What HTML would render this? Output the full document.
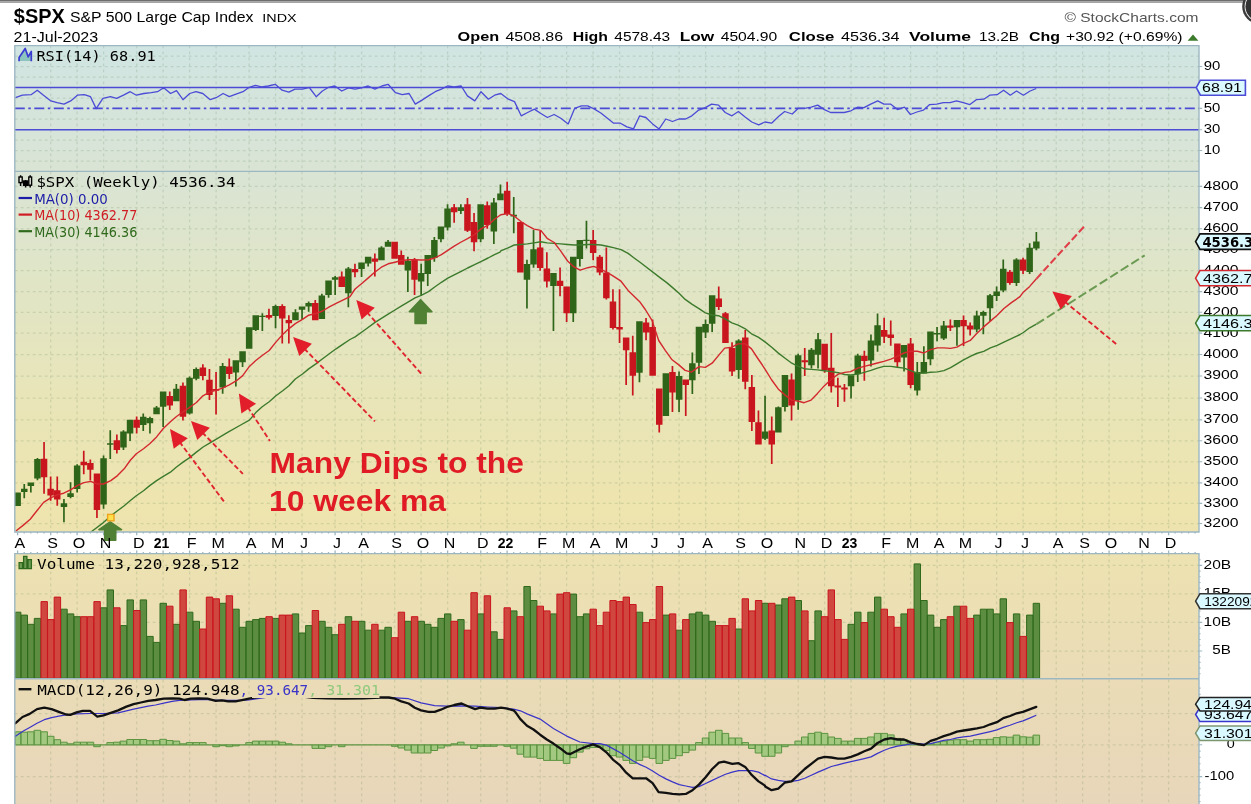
<!DOCTYPE html>
<html lang="en"><head><meta charset="utf-8"><title>$SPX S&amp;P 500 Large Cap Index - Weekly</title>
<style>html,body{margin:0;padding:0;background:#fff;overflow:hidden}svg{display:block;will-change:transform}text{font-family:"Liberation Sans",Arial,sans-serif;fill:#000}.mono{font-family:"DejaVu Sans Mono","Liberation Mono",monospace}.dv{font-family:"DejaVu Sans","Liberation Sans",sans-serif}.g{stroke:#50784f;stroke-opacity:.18;stroke-width:1.25;stroke-dasharray:2.75 3.25;fill:none}.b{stroke:#9db7c2;stroke-width:1.4;fill:none}.cg{fill:#2f6519;stroke:none}.cr{fill:#c9151e;stroke:none}.vg{fill:#5d8d40;stroke:#2f6a1c;stroke-width:1}.vr{fill:#d0473f;stroke:#c9151e;stroke-width:1}.ax{font-size:13.4px}</style></head><body>
<svg width="1251" height="804" viewBox="0 0 1251 804">
<defs><linearGradient id="bg" gradientUnits="userSpaceOnUse" x1="0" y1="45" x2="0" y2="804"><stop offset="0" stop-color="#d0e5e2"/><stop offset="0.1515" stop-color="#d9e4d6"/><stop offset="0.2912" stop-color="#dfe5c8"/><stop offset="0.4572" stop-color="#e8e5b9"/><stop offset="0.6153" stop-color="#eee4ae"/><stop offset="0.776" stop-color="#ebdeb5"/><stop offset="1" stop-color="#e8d6ba"/></linearGradient><clipPath id="cm"><rect x="14.8" y="171.4" width="1184.2" height="360.6"/></clipPath><clipPath id="cd"><rect x="14.8" y="678.8" width="1184.2" height="125.2"/></clipPath></defs>
<rect width="1251" height="804" fill="#fff"/>
<rect x="0" y="0" width="1251" height="1.2" fill="#6d6d6d"/>
<rect x="0" y="1.2" width="1251" height="1.7" fill="#9b9b9b"/>
<circle cx="1260" cy="6.5" r="17.8" fill="#3a3a3a"/>
<circle cx="1260" cy="6.5" r="14.9" fill="none" stroke="#e2e2e2" stroke-width="1.1"/>
<circle cx="1260" cy="6.5" r="14.3" fill="#333"/>
<rect x="14.8" y="45.6" width="1184.2" height="486.4" fill="url(#bg)"/>
<rect x="14.8" y="553.6" width="1184.2" height="250.4" fill="url(#bg)"/>
<path class="g" d="M50.7 45.6V532M50.7 553.6V804M77.1 45.6V532M77.1 553.6V804M103.6 45.6V532M103.6 553.6V804M136.7 45.6V532M136.7 553.6V804M163.1 45.6V532M163.1 553.6V804M189.6 45.6V532M189.6 553.6V804M216.1 45.6V532M216.1 553.6V804M249.1 45.6V532M249.1 553.6V804M275.6 45.6V532M275.6 553.6V804M302 45.6V532M302 553.6V804M335.1 45.6V532M335.1 553.6V804M361.6 45.6V532M361.6 553.6V804M394.7 45.6V532M394.7 553.6V804M421.1 45.6V532M421.1 553.6V804M447.6 45.6V532M447.6 553.6V804M480.7 45.6V532M480.7 553.6V804M507.1 45.6V532M507.1 553.6V804M540.2 45.6V532M540.2 553.6V804M566.6 45.6V532M566.6 553.6V804M593.1 45.6V532M593.1 553.6V804M619.6 45.6V532M619.6 553.6V804M652.6 45.6V532M652.6 553.6V804M679.1 45.6V532M679.1 553.6V804M705.6 45.6V532M705.6 553.6V804M738.6 45.6V532M738.6 553.6V804M765.1 45.6V532M765.1 553.6V804M798.2 45.6V532M798.2 553.6V804M824.6 45.6V532M824.6 553.6V804M851.1 45.6V532M851.1 553.6V804M884.2 45.6V532M884.2 553.6V804M910.6 45.6V532M910.6 553.6V804M937.1 45.6V532M937.1 553.6V804M963.5 45.6V532M963.5 553.6V804M996.6 45.6V532M996.6 553.6V804M1023.1 45.6V532M1023.1 553.6V804M1056.2 45.6V532M1056.2 553.6V804M1082.6 45.6V532M1082.6 553.6V804M1109.1 45.6V532M1109.1 553.6V804M1142.1 45.6V532M1142.1 553.6V804M1168.6 45.6V532M1168.6 553.6V804M14.8 56H1199M14.8 66.5H1199M14.8 77H1199M14.8 98H1199M14.8 119H1199M14.8 140H1199M14.8 150.5H1199M14.8 161H1199M14.8 186.4H1199M14.8 207.6H1199M14.8 228.8H1199M14.8 249.6H1199M14.8 270.5H1199M14.8 291.6H1199M14.8 312.3H1199M14.8 333.1H1199M14.8 354.5H1199M14.8 376H1199M14.8 398H1199M14.8 419.9H1199M14.8 440.8H1199M14.8 461.8H1199M14.8 482.9H1199M14.8 503.4H1199M14.8 523.5H1199M14.8 565.4H1199M14.8 593.9H1199M14.8 622.4H1199M14.8 651H1199M14.8 713.5H1199M14.8 744.8H1199M14.8 776.6H1199"/>
<g fill="none" stroke="#4b4bd6">
<path stroke-width="1.5" d="M14.8 87.5H1199M14.8 129.8H1199"/>
<path stroke-width="1.7" stroke-dasharray="10 3.5 2.5 3.5" d="M14.8 108.4H1199"/>
<polyline stroke-width="1.3" stroke-linejoin="round" points="15.5,97.7 22.4,95.2 31.1,94.7 37.3,90.2 43.5,95.2 50.9,100.9 57.1,102.6 64,104.1 70.7,100.9 77.4,95.2 84.3,94.7 90.5,96.7 96.2,108.6 102.9,98.4 110.4,96.7 116.6,98.4 123.5,95.2 130.2,91.7 136.4,95.2 143.8,93.5 151.3,92.7 157.5,91.7 163.7,87.8 170.6,93.5 176.5,90.7 183,99.7 189.7,93.5 195.9,91.7 202.8,93.5 210.2,99.7 216.2,97.7 223.1,93.5 229.3,96.7 236,94.2 243,91.7 249.2,87.3 255.4,85.3 261.5,86.8 268.2,86 275.2,84.3 282.1,90.2 288.8,92.2 295,89.2 302.4,89.2 309.9,87.3 310,88.5 316.2,96.7 322.4,91 328.6,87.3 334.8,86 341.7,91 348.4,87.8 355.1,89.2 361.5,87.8 368.2,86 374.9,89.2 381.9,86 388.1,84.3 395.5,92.7 402.2,94.7 409.1,93.5 415.3,104.1 422,100.1 428.5,95.9 435.2,91.7 441.4,89.2 447.5,86 454.2,86.8 461.2,86 467.4,95.9 474.8,100.9 481,91.7 488.4,99.2 494.6,95.2 500.8,93.5 508.3,99.2 514.5,101.6 521.2,115.8 527.6,112.5 534.3,109.1 540.5,113.3 547.4,117.5 554.1,114.5 560.8,118.2 568.2,123.9 574.7,108.3 581.4,105.8 587.6,105.8 594.5,109.1 601.2,113.3 607.4,118.2 613.7,123.2 620.4,123.2 626.9,126.9 633.5,128.9 639.7,115.8 645.9,117.5 652.6,123.9 659.1,128.9 665.8,119 672.5,121.5 678.9,119 685.6,119 691.8,115.8 698.7,110.1 705.4,107.6 711.6,104.1 718.6,105.1 725.2,112.5 731.9,115.8 738.4,111.5 745.1,117 751.8,122 758.7,124.9 764.9,122 771.6,123.2 778.5,116.5 784.7,111.5 792.2,114 798.4,108.3 804.5,108.3 811.2,107.1 817.7,105.1 824.4,109.6 830.6,112.5 837.5,112.5 844.2,112.5 850.9,110.8 857.8,107.1 864,107.6 870.7,104.1 877.7,100.9 883.9,104.1 890.5,104.1 897.5,109.6 904.5,107.1 910.4,114.5 916.9,112 923.5,110.1 929.7,104.6 936.7,104.1 943.4,102.6 950.1,102.6 956.5,100.9 963.2,102.6 969.9,104.6 976.3,99.7 983.8,99.2 989.7,95.2 997.1,94.7 1003.6,90.2 1010.3,95.2 1016.5,91 1023.4,95.2 1030.1,91 1036.3,88.5"/>
</g>
<g clip-path="url(#cm)">
<path class="cg" d="M14.8 492.4h6.1V506.1h-6.1zM16.8 492.4h1.7V506.1h-1.7zM21 488.7h6.5V492h-6.5zM23.4 484h1.7V498.2h-1.7zM27.6 482.6h6.5V486.1h-6.5zM30 482.6h1.7V492.4h-1.7zM34.2 459.1h6.5V478.6h-6.5zM36.6 457.9h1.7V480.3h-1.7zM60.7 503.3h6.5V507.1h-6.5zM63.1 499.1h1.7V522.3h-1.7zM67.3 493.2h6.5V497.1h-6.5zM69.7 482.3h1.7V498.2h-1.7zM73.9 465.5h6.5V489h-6.5zM76.3 464.3h1.7V492.4h-1.7zM100.3 458.3h6.5V504.5h-6.5zM102.7 455.4h1.7V508.8h-1.7zM107 443.3h6.5V444.7h-6.5zM109.4 430.2h1.7V459.1h-1.7zM120.2 431.6h6.5V447.4h-6.5zM122.6 430.2h1.7V450h-1.7zM126.8 419.8h6.5V433.6h-6.5zM129.2 419.8h1.7V441.1h-1.7zM140 416.8h6.5V424.9h-6.5zM142.4 413.4h1.7V431.1h-1.7zM146.7 418.1h6.5V423.2h-6.5zM149.1 416.8h1.7V433.6h-1.7zM153.3 407.5h6.5V414.3h-6.5zM155.7 405.9h1.7V414.3h-1.7zM159.9 391.6h6.5V406.7h-6.5zM162.3 391.6h1.7V426.9h-1.7zM173.1 388.7h6.5V401.2h-6.5zM175.5 384h1.7V401.2h-1.7zM186.3 377.7h6.5V413.4h-6.5zM188.7 376.5h1.7V414.6h-1.7zM193 368.9h6.5V378.7h-6.5zM195.4 367.6h1.7V380.3h-1.7zM219.4 365.9h6.5V387.4h-6.5zM221.8 363h1.7V393.8h-1.7zM232.6 360.2h6.5V372.6h-6.5zM235 360.2h1.7V386.6h-1.7zM239.3 351.3h6.5V362.2h-6.5zM241.7 351.3h1.7V366.9h-1.7zM245.9 327.3h6.5V348.8h-6.5zM248.3 327.3h1.7V348.8h-1.7zM252.5 315.2h6.5V330h-6.5zM254.9 315.2h1.7V331.1h-1.7zM259.1 315.7h6.5V317.1h-6.5zM261.5 313.2h1.7V331.1h-1.7zM272.3 306h6.5V316h-6.5zM274.7 304.8h1.7V328.3h-1.7zM292.2 312.2h6.5V320.2h-6.5zM294.6 309.3h1.7V320.2h-1.7zM298.8 306.5h6.5V309.8h-6.5zM301.2 306.5h1.7V319.4h-1.7zM305.4 303.1h6.5V306.5h-6.5zM307.8 301.4h1.7V311.8h-1.7zM318.6 295.4h6.5V318.9h-6.5zM321 293.7h1.7V318.9h-1.7zM325.3 280.6h6.5V294.9h-6.5zM327.7 280.6h1.7V297.8h-1.7zM331.9 277.3h6.5V279.8h-6.5zM334.3 275.9h1.7V294.9h-1.7zM345.1 268.6h6.5V293.2h-6.5zM347.5 266.9h1.7V307.2h-1.7zM358.3 262.5h6.5V268.9h-6.5zM360.7 262.5h1.7V276.9h-1.7zM364.9 256.8h6.5V263.5h-6.5zM367.3 256.8h1.7V266.4h-1.7zM378.2 247.4h6.5V260.2h-6.5zM380.6 246.2h1.7V260.2h-1.7zM384.8 241.7h6.5V246.7h-6.5zM387.2 240h1.7V246.7h-1.7zM404.6 260.8h6.5V270.6h-6.5zM407 256.8h1.7V292.1h-1.7zM417.9 273.1h6.5V281.5h-6.5zM420.3 263.8h1.7V295.8h-1.7zM424.5 255.1h6.5V273.9h-6.5zM426.9 255.1h1.7V286h-1.7zM431.1 240h6.5V258h-6.5zM433.5 237h1.7V261.8h-1.7zM437.7 226.6h6.5V239.2h-6.5zM440.1 226.6h1.7V242.2h-1.7zM444.3 208.6h6.5V227.4h-6.5zM446.7 204.2h1.7V230.4h-1.7zM457.6 207.3h6.5V211h-6.5zM460 204.2h1.7V214h-1.7zM477.4 204.2h6.5V239.2h-6.5zM479.8 204.2h1.7V242.2h-1.7zM490.6 202.6h6.5V231.6h-6.5zM493 198h1.7V243.9h-1.7zM497.2 193.5h6.5V200.2h-6.5zM499.6 184.6h1.7V200.2h-1.7zM510.5 214.8h6.5V216.5h-6.5zM512.9 196.9h1.7V233.3h-1.7zM523.7 264h6.5V279.8h-6.5zM526.1 259.7h1.7V308.4h-1.7zM530.3 249.2h6.5V264.4h-6.5zM532.7 229.9h1.7V267.7h-1.7zM550.2 273.1h6.5V285.9h-6.5zM552.6 273.1h1.7V330.9h-1.7zM570 256.7h6.5V313.3h-6.5zM572.4 256.7h1.7V322.1h-1.7zM576.6 240h6.5V259h-6.5zM579 240h1.7V266.4h-1.7zM583.2 239.7h6.5V241.1h-6.5zM585.6 220.7h1.7V248.4h-1.7zM636.2 321.2h6.5V372.8h-6.5zM638.6 321.2h1.7V382.2h-1.7zM662.6 373.3h6.5V415.9h-6.5zM665 373.3h1.7V415.9h-1.7zM675.9 376.1h6.5V399.7h-6.5zM678.2 371.6h1.7V411.9h-1.7zM689.1 363.2h6.5V380.3h-6.5zM691.5 352.6h1.7V394.1h-1.7zM695.7 326.8h6.5V362.7h-6.5zM698.1 326.8h1.7V374.1h-1.7zM702.3 324.1h6.5V332.5h-6.5zM704.7 319.5h1.7V338h-1.7zM708.9 295.2h6.5V323.7h-6.5zM711.3 295.2h1.7V332.1h-1.7zM735.4 340.5h6.5V369.9h-6.5zM737.8 339.2h1.7V378.8h-1.7zM761.8 431.6h6.5V438.8h-6.5zM764.2 395.8h1.7V440h-1.7zM775.1 407.2h6.5V432.4h-6.5zM777.5 406.4h1.7V432.4h-1.7zM781.7 375h6.5V406.9h-6.5zM784.1 375h1.7V411.4h-1.7zM794.9 355.2h6.5V400.2h-6.5zM797.3 353.8h1.7V409.7h-1.7zM808.2 349.8h6.5V365.2h-6.5zM810.6 348.1h1.7V368.6h-1.7zM814.8 339.2h6.5V354.8h-6.5zM817.2 333h1.7V368.6h-1.7zM847.8 375.3h6.5V386.2h-6.5zM850.2 375.3h1.7V398.5h-1.7zM854.5 355.5h6.5V374.3h-6.5zM856.9 353.8h1.7V382h-1.7zM867.7 340.4h6.5V360.5h-6.5zM870.1 334.5h1.7V366.4h-1.7zM874.3 325.3h6.5V345.4h-6.5zM876.7 313.5h1.7V351.8h-1.7zM900.8 345.1h6.5V357.5h-6.5zM903.2 345.1h1.7V371.4h-1.7zM914 371.9h6.5V390.4h-6.5zM916.4 361.9h1.7V395.5h-1.7zM920.6 361.9h6.5V373.6h-6.5zM923 346.3h1.7V373.6h-1.7zM927.2 331.6h6.5V359.2h-6.5zM929.6 331.6h1.7V365.2h-1.7zM933.8 333h6.5V334.4h-6.5zM936.2 326.9h1.7V341.2h-1.7zM940.5 325.6h6.5V338.4h-6.5zM942.9 321.1h1.7V340h-1.7zM953.7 319.9h6.5V327.3h-6.5zM956.1 319.9h1.7V345.8h-1.7zM973.5 315.4h6.5V329.5h-6.5zM975.9 310.7h1.7V332.2h-1.7zM980.1 312.1h6.5V315.8h-6.5zM982.5 310.7h1.7V334.2h-1.7zM986.8 295.3h6.5V308.2h-6.5zM989.2 293.9h1.7V321.1h-1.7zM993.4 291.4h6.5V295.9h-6.5zM995.8 286.4h1.7V301h-1.7zM1000 268.7h6.5V290.6h-6.5zM1002.4 259.5h1.7V292.2h-1.7zM1013.2 259.5h6.5V283h-6.5zM1015.6 258.3h1.7V285.9h-1.7zM1026.4 247.7h6.5V272.1h-6.5zM1028.8 243.2h1.7V274.1h-1.7zM1033.1 241.5h6.5V248.6h-6.5zM1035.5 232.1h1.7V250.3h-1.7z"/>
<path class="cr" d="M40.8 458.8h6.5V477.2h-6.5zM43.2 442h1.7V493.7h-1.7zM47.4 488.7h6.5V495.4h-6.5zM49.8 476.4h1.7V500.8h-1.7zM54 490.3h6.5V499.4h-6.5zM56.4 476.4h1.7V505.8h-1.7zM80.5 461.8h6.5V465.2h-6.5zM82.9 450.7h1.7V474.2h-1.7zM87.1 463h6.5V469.7h-6.5zM89.5 459.6h1.7V480.6h-1.7zM93.7 473.4h6.5V510h-6.5zM96.1 473.4h1.7V517.9h-1.7zM113.6 440.3h6.5V450h-6.5zM116 434.4h1.7V453.4h-1.7zM133.4 419.8h6.5V427.7h-6.5zM135.8 416.5h1.7V433.6h-1.7zM166.5 396.1h6.5V405.5h-6.5zM168.9 391.6h1.7V410.1h-1.7zM179.7 385.7h6.5V416.8h-6.5zM182.1 382.4h1.7V420.6h-1.7zM199.6 367.6h6.5V376h-6.5zM202 364.2h1.7V380.3h-1.7zM206.2 379.8h6.5V395h-6.5zM208.6 368.9h1.7V400h-1.7zM212.8 389.1h6.5V390.8h-6.5zM215.2 371.9h1.7V414.6h-1.7zM226 366.4h6.5V374h-6.5zM228.4 358.5h1.7V379h-1.7zM265.7 314.9h6.5V317.7h-6.5zM268.1 308.8h1.7V319.4h-1.7zM279 306h6.5V318.5h-6.5zM281.4 304.3h1.7V343.4h-1.7zM285.6 319.9h6.5V323.2h-6.5zM288 315.2h1.7V343.4h-1.7zM312 303.1h6.5V320.2h-6.5zM314.4 300.1h1.7V320.2h-1.7zM338.5 276.4h6.5V287h-6.5zM340.9 271.4h1.7V287h-1.7zM351.7 268.9h6.5V272.2h-6.5zM354.1 263.8h1.7V277.3h-1.7zM371.6 258.5h6.5V261.8h-6.5zM374 253.4h1.7V276.4h-1.7zM391.4 241.7h6.5V258.8h-6.5zM393.8 241.7h1.7V258.8h-1.7zM398 255.1h6.5V264.7h-6.5zM400.4 250.4h1.7V264.7h-1.7zM411.3 259.7h6.5V279.8h-6.5zM413.7 258h1.7V294.9h-1.7zM450.9 207.3h6.5V212.3h-6.5zM453.3 203.9h1.7V222.7h-1.7zM464.2 204.2h6.5V230.8h-6.5zM466.6 198h1.7V232.1h-1.7zM470.8 222h6.5V242.2h-6.5zM473.2 213.1h1.7V251.3h-1.7zM484 205.2h6.5V224.9h-6.5zM486.4 201.4h1.7V228.8h-1.7zM503.9 190.8h6.5V214h-6.5zM506.3 181.7h1.7V215.7h-1.7zM517.1 222h6.5V272.4h-6.5zM519.5 222h1.7V272.4h-1.7zM536.9 247.6h6.5V268.1h-6.5zM539.3 230.4h1.7V270.7h-1.7zM543.6 268.6h6.5V281.5h-6.5zM546 252.3h1.7V287.5h-1.7zM556.8 280.8h6.5V285.9h-6.5zM559.2 267.4h1.7V296.3h-1.7zM563.4 286.5h6.5V313.3h-6.5zM565.8 286.5h1.7V322.1h-1.7zM589.9 240h6.5V252.9h-6.5zM592.3 229.9h1.7V260.2h-1.7zM596.5 256.8h6.5V272.4h-6.5zM598.9 255.1h1.7V275.3h-1.7zM603.1 272.4h6.5V298.3h-6.5zM605.5 247.6h1.7V299.6h-1.7zM609.7 301.6h6.5V327.9h-6.5zM612.1 289.3h1.7V329.6h-1.7zM616.3 327.1h6.5V329.6h-6.5zM618.7 289.3h1.7V343h-1.7zM622.9 337.5h6.5V350.3h-6.5zM625.3 337.5h1.7V385h-1.7zM629.5 352.3h6.5V375.8h-6.5zM631.9 335.8h1.7V395.6h-1.7zM642.8 322.4h6.5V332.5h-6.5zM645.2 317.9h1.7V340.2h-1.7zM649.4 327.1h6.5V375.8h-6.5zM651.8 319.5h1.7V375.8h-1.7zM656 388.4h6.5V424.8h-6.5zM658.4 388.4h1.7V432.4h-1.7zM669.2 371.9h6.5V392.4h-6.5zM671.6 366.1h1.7V411.9h-1.7zM682.5 379.5h6.5V385h-6.5zM684.9 379.5h1.7V415.9h-1.7zM715.5 298.5h6.5V306.9h-6.5zM717.9 286.5h1.7V310h-1.7zM722.2 313.3h6.5V343h-6.5zM724.6 312h1.7V343h-1.7zM728.8 348.1h6.5V371.6h-6.5zM731.2 342.2h1.7V376.1h-1.7zM742 337.5h6.5V381.7h-6.5zM744.4 330.1h1.7V389.2h-1.7zM748.6 387.1h6.5V422h-6.5zM751 375h1.7V431.1h-1.7zM755.2 422.3h6.5V444.5h-6.5zM757.6 410.6h1.7V444.5h-1.7zM768.5 430.4h6.5V444.5h-6.5zM770.9 416.4h1.7V464h-1.7zM788.3 379.5h6.5V405.5h-6.5zM790.7 373.6h1.7V420.6h-1.7zM801.5 360.2h6.5V362.2h-6.5zM803.9 348.1h1.7V376.1h-1.7zM821.4 343.7h6.5V370.6h-6.5zM823.8 343.7h1.7V372.8h-1.7zM828 367.7h6.5V386.2h-6.5zM830.4 333h1.7V392.4h-1.7zM834.6 385.4h6.5V387.4h-6.5zM837 377.8h1.7V406.9h-1.7zM841.2 387.4h6.5V389.6h-6.5zM843.6 384h1.7V401.8h-1.7zM861.1 355.8h6.5V360.9h-6.5zM863.5 350.8h1.7V380.7h-1.7zM880.9 330h6.5V336.7h-6.5zM883.3 317.7h1.7V342.9h-1.7zM887.5 334.5h6.5V337.9h-6.5zM889.9 320.6h1.7V345.8h-1.7zM894.1 343.4h6.5V362.2h-6.5zM896.5 343.4h1.7V366.9h-1.7zM907.4 343.4h6.5V384.9h-6.5zM909.8 337.9h1.7V388.2h-1.7zM947.1 325.6h6.5V327.8h-6.5zM949.5 319.4h1.7V331.1h-1.7zM960.3 320h6.5V326.2h-6.5zM962.7 315.4h1.7V346h-1.7zM966.9 325.5h6.5V329.5h-6.5zM969.3 322.5h1.7V335.6h-1.7zM1006.6 271.8h6.5V283h-6.5zM1009 270.1h1.7V284.7h-1.7zM1019.8 259.5h6.5V270.8h-6.5zM1022.2 257.8h1.7V274.1h-1.7z"/>
<polyline fill="none" stroke="#3c7a2c" stroke-width="1.4" stroke-linejoin="round" points="90.3,532.7 92.3,531 103.4,522.6 110.8,515.9 117.5,510.8 124.2,505.8 130.1,500.8 136.3,495.7 143.5,490.7 149.7,485.6 156.6,480.6 163.3,476.4 170.4,472.2 176.2,467.2 183,462.1 189.3,457.9 196.4,452.1 203.1,447 210,442.8 217.2,438.6 227.2,432.7 240.7,425 249.4,420.1 255.8,412.6 262.2,406.7 269.2,401.7 275.9,395.8 282.7,390.8 289,385.7 295.3,379 302.5,374 308.7,368.9 315.9,363.9 322.6,358.8 329.3,353.8 336.1,348.8 342.3,344.6 350,339.5 355.1,336.9 364.7,330 374.7,322.6 381.4,318.4 388.2,314.2 394.9,310 401.6,305.8 408.8,301.6 415,297.8 421.2,295.4 428.5,291.6 434.7,287 441.4,282.3 447.8,278.1 454.2,274.8 461.2,271.4 467.6,268 474.6,264.7 481.4,261.3 488.1,258 494.5,254.6 500,252.1 500.8,250.9 508,247.9 514.2,245 520.9,244.5 527.3,243.9 534,242.9 540.8,241.7 547.1,242.9 554.2,243.4 560.6,243.9 567.6,244.5 574,245 580.2,245 587.8,244.5 593.7,244.5 600.9,245 607.1,246.2 613.3,247.6 621,249.6 628.1,253.4 634.8,258.5 640,262.3 660,277.6 666.7,282.6 672.6,287.6 679.3,293.5 685.2,299.4 692.2,304.4 699,308.6 705.3,312.8 712.1,315 718.4,315.7 724.7,318.7 731.9,322.9 738.1,325.1 745.3,328.8 751.5,333.8 758.2,337.2 765,341.9 771.7,347.2 778.4,353.1 785.1,358.2 791.8,363.2 797.7,366.1 804.1,368.7 811.1,369.4 817.5,369.9 824.2,370.8 831.3,371.6 838.3,372.8 844.7,374.5 850.6,375 857.8,374.1 864.2,372.3 870.9,370.3 877.4,368.1 883.8,366.4 890.9,366.4 897.2,367.2 904,368.1 910.7,370.6 917.4,373.1 923.8,373.1 930.5,372.3 937.5,371.9 943.9,370.6 950.6,367.6 956.9,363.9 963.1,360.2 970.3,356.3 976.5,353.5 983.7,351.3 990.4,347.9 997.2,345.4 1003.9,342.1 1011.4,338.7 1020,334.5 1023.3,332.5 1029.7,327.8 1036.4,324.2"/>
<polyline fill="none" stroke="#d3282e" stroke-width="1.4" stroke-linejoin="round" points="15.9,531 23.4,525.1 30.2,519.2 36.9,510.8 43.6,502.4 50.3,498.2 57,494.9 63.7,493.2 70.5,489.8 77.2,485.6 83.9,482.6 90.6,481.4 97.3,484 103.4,484 110.8,480.6 117.5,475.6 124.2,468.8 130.1,460.5 136.3,453.7 143.5,448.7 149.7,443.7 156.6,436.9 163.3,428.5 170.4,421.8 176.2,416.8 183,411.8 189.3,407.6 196.4,402.5 202.9,395.8 209.1,392.4 215.8,390.4 222.5,388.2 229.3,384.9 236.5,380.7 242.7,375.6 249.4,366.4 255.8,360.5 262.2,355.5 269.2,350.5 275.9,342.1 282.7,334.5 289,328.6 295.3,323.6 302.5,319.4 308.7,315.2 315.9,313.5 322.6,311 329.3,306.8 336.1,303.4 342.3,300.4 350,296.7 355.1,289 362.1,283.2 368,278.1 374.7,272.2 381.4,267.2 388.2,263.8 394.9,262.2 401.6,260.5 408.8,259.7 415,259.7 421.2,260 428.5,259.7 434.7,258 441.4,254.6 447.8,250.4 454.2,246.2 461.2,242 467.6,238.7 474.6,234.5 481.4,228.6 488.1,225.2 494.5,219.3 500,215.2 500.8,214.8 508,213.6 514.2,216 520.9,221.5 527.3,225.7 534,229.1 540.8,230.4 547.1,238.3 554.2,242.5 560.6,250.9 567.6,261 574,266.9 580.2,270.2 587.8,267.7 593.7,266.4 600.9,269.4 607.1,272.4 613.3,276.1 621,281.2 628.1,290.4 634.8,297.1 640,302.1 645.3,309.5 652,320.4 658.7,340.5 665.4,350.6 672.1,359.8 678.8,364.9 685.1,370.4 691.4,372.1 699,366.6 705.3,367.4 712.1,363.2 718.4,355.6 724.7,348.1 731.9,347.2 738.1,343.9 745.3,343.9 751.5,348.9 758.2,359 765,369.1 771.7,380 778.4,389.2 785.1,395.1 791.8,400.1 797.7,401 804.1,402.7 811.1,400.1 817.5,393.4 824.2,385.9 831.3,379.2 838.3,374.1 844.7,372.4 850.6,371.6 857.8,368.2 864.2,366.4 870.9,364.7 877.4,363 883.8,361.4 890.9,359.2 897.2,356.3 904,353 910.7,351.3 917.4,351.3 923.8,353 930.5,349.6 937.5,347.9 943.9,347.9 950.6,348.4 956.9,347.1 963.1,343.7 970.3,340.4 976.5,333.7 983.7,326.9 990.4,321.1 997.2,315.2 1003.9,308.5 1011.4,302.6 1020,296.7 1023.3,292.2 1029.7,286.4 1036.4,278.8"/>
</g>
<path d="M1036.4 278.8L1085.1 225.4" fill="none" stroke="#e0404a" stroke-width="2" stroke-dasharray="7.5 3"/>
<path d="M1036.4 324.2L1144.7 255.3" fill="none" stroke="#6b9a52" stroke-width="2" stroke-dasharray="9 3.5"/>
<path d="M179.5 441.8L223.9 501.5" fill="none" stroke="#e0252f" stroke-width="1.9" stroke-dasharray="5 2.7"/>
<path d="M170 429L173.7 448.7L187.8 438.2z" fill="#e21e2a"/>
<path d="M202.2 432.4L242.9 473.9" fill="none" stroke="#e0252f" stroke-width="1.9" stroke-dasharray="5 2.7"/>
<path d="M191 421L197.3 440L209.9 427.7z" fill="#e21e2a"/>
<path d="M247.7 407L269.9 441" fill="none" stroke="#e0252f" stroke-width="1.9" stroke-dasharray="5 2.7"/>
<path d="M238.9 393.6L241.4 413.5L256.1 403.8z" fill="#e21e2a"/>
<path d="M304.2 348.5L374.9 421.4" fill="none" stroke="#e0252f" stroke-width="1.9" stroke-dasharray="5 2.7"/>
<path d="M293.1 337L299.3 356L311.9 343.8z" fill="#e21e2a"/>
<path d="M366.9 312.1L421.9 374.4" fill="none" stroke="#e0252f" stroke-width="1.9" stroke-dasharray="5 2.7"/>
<path d="M356.3 300.1L361.6 319.4L374.8 307.8z" fill="#e21e2a"/>
<path d="M1064.7 301.6L1116.2 344" fill="none" stroke="#e0252f" stroke-width="1.9" stroke-dasharray="5 2.7"/>
<path d="M1052.4 291.4L1060.7 309.6L1071.9 296.1z" fill="#e21e2a"/>
<text x="269.6" y="472.6" textLength="254.3" lengthAdjust="spacingAndGlyphs" style="font-size:30.3px;font-weight:bold;fill:#e01b25">Many Dips to the</text>
<text x="269.1" y="510.6" textLength="177" lengthAdjust="spacingAndGlyphs" style="font-size:30.3px;font-weight:bold;fill:#e01b25">10 week ma</text>
<path class="vg" d="M15.3 612.2H20.9V678.3H15.3zM21.1 615.1H27.5V678.3H21.1zM27.7 624.3H34.1V678.3H27.7zM34.3 618.4H40.7V678.3H34.3zM60.8 609.2H67.2V678.3H60.8zM67.4 613.9H73.8V678.3H67.4zM74 616.7H80.4V678.3H74zM100.5 607.8H106.9V678.3H100.5zM107.1 589.9H113.5V678.3H107.1zM120.3 625.6H126.7V678.3H120.3zM127 599.9H133.4V678.3H127zM140.2 599.9H146.6V678.3H140.2zM146.8 636.4H153.2V678.3H146.8zM153.4 642.4H159.8V678.3H153.4zM160 603.3H166.4V678.3H160zM173.3 624.3H179.7V678.3H173.3zM186.5 612.2H192.9V678.3H186.5zM193.1 621.3H199.5V678.3H193.1zM219.6 603.3H226V678.3H219.6zM232.8 609.2H239.2V678.3H232.8zM239.4 627.3H245.8V678.3H239.4zM246 621.3H252.4V678.3H246zM252.6 619.6H259V678.3H252.6zM259.3 618.4H265.7V678.3H259.3zM272.5 618.4H278.9V678.3H272.5zM292.3 613.9H298.7V678.3H292.3zM298.9 633H305.3V678.3H298.9zM305.6 625.6H312V678.3H305.6zM318.8 621.3H325.2V678.3H318.8zM325.4 627.3H331.8V678.3H325.4zM332 634.7H338.4V678.3H332zM345.2 616.7H351.7V678.3H345.2zM358.5 621.3H364.9V678.3H358.5zM365.1 630.2H371.5V678.3H365.1zM378.3 630.2H384.7V678.3H378.3zM384.9 627.3H391.3V678.3H384.9zM404.8 621.3H411.2V678.3H404.8zM418 621.3H424.4V678.3H418zM424.6 624.3H431V678.3H424.6zM431.2 627.3H437.6V678.3H431.2zM437.9 618.4H444.3V678.3H437.9zM444.5 613.9H450.9V678.3H444.5zM457.7 619.6H464.1V678.3H457.7zM477.6 613.9H484V678.3H477.6zM490.8 631.8H497.2V678.3H490.8zM497.4 639.4H503.8V678.3H497.4zM510.6 610.9H517V678.3H510.6zM523.9 586.5H530.3V678.3H523.9zM530.5 600.5H536.9V678.3H530.5zM550.3 613.9H556.7V678.3H550.3zM570.2 594.1H576.6V678.3H570.2zM576.8 616.7H583.2V678.3H576.8zM583.4 613.9H589.8V678.3H583.4zM636.3 612.2H642.7V678.3H636.3zM662.8 615.1H669.2V678.3H662.8zM676 630.2H682.4V678.3H676zM689.2 613.9H695.6V678.3H689.2zM695.8 612.2H702.2V678.3H695.8zM702.5 615.1H708.9V678.3H702.5zM709.1 621.3H715.5V678.3H709.1zM735.5 629H741.9V678.3H735.5zM762 603.3H768.4V678.3H762zM775.2 605H781.6V678.3H775.2zM781.8 598.8H788.2V678.3H781.8zM795.1 600.5H801.5V678.3H795.1zM808.3 640.7H814.7V678.3H808.3zM814.9 610.9H821.3V678.3H814.9zM848 624.3H854.4V678.3H848zM854.6 612.2H861V678.3H854.6zM867.8 612.2H874.2V678.3H867.8zM874.5 597.1H880.9V678.3H874.5zM900.9 613.9H907.3V678.3H900.9zM914.1 563.9H920.5V678.3H914.1zM920.8 600.5H927.2V678.3H920.8zM927.4 615.1H933.8V678.3H927.4zM934 627.3H940.4V678.3H934zM940.6 619.6H947V678.3H940.6zM953.8 606.2H960.2V678.3H953.8zM973.7 615.1H980.1V678.3H973.7zM980.3 609.2H986.7V678.3H980.3zM986.9 609.2H993.3V678.3H986.9zM993.5 613.9H999.9V678.3H993.5zM1000.1 598.8H1006.5V678.3H1000.1zM1013.4 613.9H1019.8V678.3H1013.4zM1026.6 615.1H1033V678.3H1026.6zM1033.2 603.3H1039.6V678.3H1033.2z"/>
<path class="vr" d="M41 601.6H47.4V678.3H41zM47.6 619.6H54V678.3H47.6zM54.2 597.1H60.6V678.3H54.2zM80.7 616.7H87V678.3H80.7zM87.3 616.7H93.7V678.3H87.3zM93.9 601.6H100.3V678.3H93.9zM113.7 607.8H120.1V678.3H113.7zM133.6 610.5H140V678.3H133.6zM166.6 606.2H173V678.3H166.6zM179.9 589.9H186.3V678.3H179.9zM199.7 629H206.1V678.3H199.7zM206.3 597.1H212.7V678.3H206.3zM213 598.8H219.4V678.3H213zM226.2 595.8H232.6V678.3H226.2zM265.9 616.7H272.3V678.3H265.9zM279.1 615.1H285.5V678.3H279.1zM285.7 615.1H292.1V678.3H285.7zM312.2 610.5H318.6V678.3H312.2zM338.6 624.3H345V678.3H338.6zM351.9 621.3H358.3V678.3H351.9zM371.7 624.3H378.1V678.3H371.7zM391.6 637.7H398V678.3H391.6zM398.2 612.2H404.6V678.3H398.2zM411.4 616.7H417.8V678.3H411.4zM451.1 621.3H457.5V678.3H451.1zM464.3 630.2H470.7V678.3H464.3zM470.9 592.7H477.3V678.3H470.9zM484.2 595.8H490.6V678.3H484.2zM504 607.8H510.4V678.3H504zM517.2 616.7H523.6V678.3H517.2zM537.1 606.2H543.5V678.3H537.1zM543.7 610.9H550.1V678.3H543.7zM556.9 594.1H563.3V678.3H556.9zM563.5 592.7H569.9V678.3H563.5zM590 609.2H596.4V678.3H590zM596.6 625.6H603V678.3H596.6zM603.2 612.2H609.6V678.3H603.2zM609.9 600.5H616.2V678.3H609.9zM616.5 601.6H622.9V678.3H616.5zM623.1 597.1H629.5V678.3H623.1zM629.7 604.5H636.1V678.3H629.7zM642.9 622.6H649.3V678.3H642.9zM649.5 619.6H655.9V678.3H649.5zM656.2 586.5H662.6V678.3H656.2zM669.4 613.9H675.8V678.3H669.4zM682.6 619.6H689V678.3H682.6zM715.7 625.6H722.1V678.3H715.7zM722.3 625.6H728.7V678.3H722.3zM728.9 618.4H735.3V678.3H728.9zM742.1 598.8H748.5V678.3H742.1zM748.8 610.9H755.2V678.3H748.8zM755.4 600.5H761.8V678.3H755.4zM768.6 603.3H775V678.3H768.6zM788.5 597.1H794.9V678.3H788.5zM801.7 610.9H808.1V678.3H801.7zM821.5 616.7H827.9V678.3H821.5zM828.1 589.9H834.5V678.3H828.1zM834.8 619.6H841.2V678.3H834.8zM841.4 639.4H847.8V678.3H841.4zM861.2 622.6H867.6V678.3H861.2zM881.1 609.2H887.5V678.3H881.1zM887.7 616.7H894.1V678.3H887.7zM894.3 627.3H900.7V678.3H894.3zM907.5 609.2H913.9V678.3H907.5zM947.2 616.7H953.6V678.3H947.2zM960.4 606.2H966.8V678.3H960.4zM967.1 618.4H973.5V678.3H967.1zM1006.8 622.6H1013.1V678.3H1006.8zM1020 636.4H1026.4V678.3H1020z"/>
<g clip-path="url(#cd)">
<path d="M15.3 744.8V731.8H20.9V744.8M20.9 744.8V732.2H27.5V744.8M27.5 744.8V731.8H34.1V744.8M34.1 744.8V730.3H40.7V744.8M40.8 744.8V731.8H47.4V744.8M47.4 744.8V736.3H54V744.8M54 744.8V739.7H60.6V744.8M60.6 744.8V742.2H67.2V744.8M67.2 744.8V743.8H73.8V744.8M73.8 744.8V742.2H80.4V744.8M80.5 744.8V742.2H87V744.8M87.1 744.8V742.2H93.7V744.8M93.7 744.8V746.7H100.3V744.8M106.9 744.8V742.6H113.5V744.8M113.5 744.8V742.2H120.1V744.8M120.1 744.8V741.1H126.7V744.8M126.8 744.8V739.5H133.4V744.8M133.4 744.8V739.5H140V744.8M140 744.8V739.5H146.6V744.8M146.6 744.8V740.7H153.2V744.8M153.2 744.8V740.7H159.8V744.8M159.8 744.8V739.3H166.4V744.8M166.4 744.8V740.5H173V744.8M173.1 744.8V741.1H179.7V744.8M179.7 744.8V743.8H186.3V744.8M186.3 744.8V742.6H192.9V744.8M192.9 744.8V742.6H199.5V744.8M199.5 744.8V742.6H206.1V744.8M212.8 744.8V746.7H219.4V744.8M219.4 744.8V745.7H226V744.8M226 744.8V746.7H232.6V744.8M232.6 744.8V745.9H239.2V744.8M245.8 744.8V742.6H252.4V744.8M252.4 744.8V741.1H259V744.8M259.1 744.8V741.1H265.7V744.8M265.7 744.8V741.1H272.3V744.8M272.3 744.8V741.1H278.9V744.8M278.9 744.8V742.2H285.5V744.8M285.5 744.8V743.8H292.1V744.8M312 744.8V748.4H318.6V744.8M318.6 744.8V748.4H325.2V744.8M325.2 744.8V746.7H331.8V744.8M338.4 744.8V746.7H345V744.8M391.4 744.8V746.3H398V744.8M398 744.8V748H404.6V744.8M404.6 744.8V750.1H411.2V744.8M411.2 744.8V753H417.8V744.8M417.8 744.8V753H424.4V744.8M424.4 744.8V753H431V744.8M431 744.8V750.5H437.6V744.8M437.7 744.8V748H444.3V744.8M444.3 744.8V745.9H450.9V744.8M450.9 744.8V743.8H457.5V744.8M457.5 744.8V742.2H464.1V744.8M470.7 744.8V748.4H477.3V744.8M477.4 744.8V746.3H484V744.8M484 744.8V746.3H490.6V744.8M490.6 744.8V746.3H497.2V744.8M503.8 744.8V746.3H510.4V744.8M510.4 744.8V748.2H517V744.8M517 744.8V754.2H523.6V744.8M523.7 744.8V757.1H530.3V744.8M530.3 744.8V757.1H536.9V744.8M536.9 744.8V758.4H543.5V744.8M543.5 744.8V760.4H550.1V744.8M550.1 744.8V760.4H556.7V744.8M556.7 744.8V760.4H563.3V744.8M563.3 744.8V763.4H569.9V744.8M570 744.8V757.7H576.6V744.8M576.6 744.8V752.1H583.2V744.8M583.2 744.8V748.8H589.8V744.8M589.8 744.8V747.4H596.4V744.8M596.4 744.8V747.4H603V744.8M603 744.8V750.5H609.6V744.8M609.7 744.8V755.7H616.2V744.8M616.3 744.8V757.1H622.9V744.8M622.9 744.8V760.4H629.5V744.8M629.5 744.8V763.4H636.1V744.8M636.1 744.8V760.4H642.7V744.8M642.7 744.8V757.1H649.3V744.8M649.3 744.8V758.4H655.9V744.8M656 744.8V763.4H662.6V744.8M662.6 744.8V760.4H669.2V744.8M669.2 744.8V758.4H675.8V744.8M675.8 744.8V755.7H682.4V744.8M682.4 744.8V752.6H689V744.8M689 744.8V750.1H695.6V744.8M695.6 744.8V742.6H702.2V744.8M702.3 744.8V738H708.9V744.8M708.9 744.8V732.2H715.5V744.8M715.5 744.8V730.3H722.1V744.8M722.1 744.8V733.4H728.7V744.8M728.7 744.8V738H735.3V744.8M735.3 744.8V738H741.9V744.8M742 744.8V742.6H748.5V744.8M748.6 744.8V748.4H755.2V744.8M755.2 744.8V753H761.8V744.8M761.8 744.8V756.3H768.4V744.8M768.4 744.8V756.3H775V744.8M775 744.8V753H781.6V744.8M781.6 744.8V746.7H788.2V744.8M794.9 744.8V741.1H801.5V744.8M801.5 744.8V737H808.1V744.8M808.1 744.8V733.4H814.7V744.8M814.7 744.8V732.2H821.3V744.8M821.3 744.8V733.4H827.9V744.8M827.9 744.8V737H834.5V744.8M834.6 744.8V738.4H841.2V744.8M841.2 744.8V741.1H847.8V744.8M847.8 744.8V741.1H854.4V744.8M854.4 744.8V738.4H861V744.8M861 744.8V738.4H867.6V744.8M867.6 744.8V737H874.2V744.8M874.3 744.8V733.4H880.9V744.8M880.9 744.8V733.4H887.5V744.8M887.5 744.8V734.9H894.1V744.8M894.1 744.8V738.4H900.7V744.8M900.7 744.8V739.7H907.3V744.8M907.3 744.8V743.2H913.9V744.8M927.2 744.8V743.8H933.8V744.8M933.8 744.8V742.2H940.4V744.8M940.4 744.8V741.1H947V744.8M947 744.8V740.1H953.6V744.8M953.6 744.8V739.7H960.2V744.8M960.2 744.8V739.7H966.8V744.8M966.9 744.8V741.1H973.5V744.8M973.5 744.8V739.7H980.1V744.8M980.1 744.8V739.7H986.7V744.8M986.7 744.8V739.3H993.3V744.8M993.3 744.8V737.6H999.9V744.8M999.9 744.8V736.8H1006.5V744.8M1006.6 744.8V737.2H1013.1V744.8M1013.2 744.8V735.1H1019.8V744.8M1019.8 744.8V736.8H1026.4V744.8M1026.4 744.8V737.2H1033V744.8M1033 744.8V735.1H1039.6V744.8" fill="#a3c981" stroke="#5c9440" stroke-width="1"/>
<path d="M14.8 744.8H1039.6" stroke="#5c9440" stroke-width="1.2" fill="none"/>
<polyline fill="none" stroke="#3a34c8" stroke-width="1.2" stroke-linejoin="round" points="14.6,737 15.8,736.1 22.5,731.6 29.7,727.4 37,723.3 44.3,719.7 51.6,717.6 58.8,716.2 66.1,714.9 76.5,713.9 90,713.5 103.5,713.5 118.1,712.9 126.4,710.8 133.6,709.1 140.9,707.7 148.2,706.2 155.5,705 163.8,703.1 172.1,701.4 179.4,700.4 190.8,700 199.1,699.6 207.4,699.6 215.7,700 228.2,700.4 240.7,700.4 249,700 259.4,698.3 267.7,697.1 272.5,695.8 291.2,695.4 313,695.8 343.1,696.7 380.5,697.5 395.1,697.9 408.6,698.7 421.1,702.9 434.6,705.6 447,706.2 461.6,705.8 475.1,706.2 487.6,707 501.1,707.7 513.5,709.1 520.4,710.8 527,713.9 540.1,719.1 553.4,728.4 566.7,736.1 579.8,742 593.1,743.6 599.8,743.6 606.4,745.1 612.9,748.6 619.5,752.3 626.2,756.5 632.8,760.7 639.5,764.4 646.1,767.3 652.6,771 659.2,775.2 665.9,778.9 672.5,781.9 679.2,784.6 685.8,786 692.5,787.3 698.9,786.6 705.6,783.5 712.2,780.4 718.9,777.3 725.5,774.2 732.2,772.1 738.6,770.6 745.2,770.6 751.9,770.6 758.5,772.1 765,775.6 765.2,775.2 771.6,778.9 778.3,780.4 784.9,781.4 791.6,781.4 798.2,780.4 804.7,778.3 811.3,775.2 818,772.1 824.6,769.4 831.3,766.5 837.9,764.8 844.4,763.2 851,761.7 857.7,760.2 864.3,758.6 871,756.9 877.6,753.4 884.3,750.3 890.9,747.8 897.4,746.1 904,745.1 910.7,744 917.3,743.6 924,744 930.6,743.6 937.1,742 943.7,740.3 950.4,739.5 957,737.8 963.7,736.8 970.3,736.1 977,734.7 983.6,733.2 990.3,731.6 996.9,729.9 1003.3,727.4 1010,725.3 1016.7,722.8 1023,720.9 1029.6,718.1 1036.3,715.2"/>
<polyline fill="none" stroke="#111" stroke-width="2.3" stroke-linejoin="round" stroke-linecap="round" points="14.6,723.7 15.8,722.8 22.5,717 29.7,713.9 37,709.1 44.3,707.7 51.6,709.1 58.8,711.8 66.1,714.5 70.3,714.9 76.5,712.4 82.7,710.8 90,710.8 97.3,716.6 103.5,715.4 110.8,712.9 118.1,710.4 126.4,706.6 133.6,704.1 140.9,702.5 148.2,700.8 155.5,700 163.8,698.7 172.1,698.3 179.4,698.7 184.6,700 190.8,698.7 199.1,698.3 207.4,698.7 215.7,700.8 222,700.4 228.2,701.4 235.5,701.4 240.7,700.4 249,698.7 257.3,697.1 265.6,695.8 272.5,695 284.9,695 297.4,695.8 313,697.9 326.5,698.3 343.1,698.5 363.9,698.3 380.5,697.5 388.8,697.5 395.1,698.7 401.3,701.4 408.6,703.5 414.8,707.7 421.1,710.4 428.3,711.8 434.6,711.8 440.8,709.7 447,707 454.3,705 461.6,703.5 467.8,706.2 475.1,709.1 480.3,707.7 487.6,708.7 494.8,708.7 501.1,707.7 507.3,708.7 513.5,710.4 515.2,711.8 520.4,719.1 527,725.7 533.5,729.5 540.1,734.7 546.8,739.5 553.4,743.6 560.1,748.2 566.7,753.4 570.3,754 579.8,749.2 586.5,746.5 593.1,744.4 599.8,747.1 606.4,752.3 612.9,759.6 619.5,764.8 626.2,772.7 632.8,778.3 639.5,778.3 646.1,778.3 652.6,783.1 658.6,792.2 665.9,792.9 672.5,793.9 679.2,794.3 685.8,793.9 692.5,790.2 698.9,784.6 705.6,777.3 712.2,769 718.9,762.7 724,761.7 732.2,763.8 738.6,763.2 745.2,766.9 751.9,775.2 758.5,781.4 765,785.6 765.2,786.6 771.6,790.2 778.3,788.7 784.9,782.5 791.6,781.4 798.2,775.2 804.7,769 811.3,763.8 818,758.6 824.6,756.9 831.3,757.5 837.9,758.6 844.4,758.6 851,756.9 857.7,754.4 864.3,751.3 871,748.6 877.6,743 884.3,739.5 890.9,738.2 897.4,739.5 904,739.5 910.7,742.4 917.3,744 924,745.1 930.6,740.9 937.1,738.8 943.7,736.1 950.4,734.1 957,731.6 963.7,730.5 970.3,729.5 977,728.4 983.6,727 990.3,724.3 996.9,722.2 1003.3,718.1 1010,716 1016.7,713.3 1023,711.9 1029.6,709.4 1036.3,706.9"/>
<rect x="252" y="679.6" width="127.5" height="18.4" fill="url(#bg)"/>
</g>
<path class="b" d="M14.8 45.6H1199V532H14.8z M14.8 171.4H1199"/>
<path class="b" d="M14.8 804V553.6H1199V804 M14.8 678.8H1199"/>
<path d="M17.6 532v3.2 M17.6 553.6v-3.2M24.2 532v1.6 M24.2 553.6v-1.6M30.8 532v1.6 M30.8 553.6v-1.6M37.4 532v1.6 M37.4 553.6v-1.6M44.1 532v1.6 M44.1 553.6v-1.6M50.7 532v3.2 M50.7 553.6v-3.2M57.3 532v1.6 M57.3 553.6v-1.6M63.9 532v1.6 M63.9 553.6v-1.6M70.5 532v1.6 M70.5 553.6v-1.6M77.1 532v3.2 M77.1 553.6v-3.2M83.8 532v1.6 M83.8 553.6v-1.6M90.4 532v1.6 M90.4 553.6v-1.6M97 532v1.6 M97 553.6v-1.6M103.6 532v3.2 M103.6 553.6v-3.2M110.2 532v1.6 M110.2 553.6v-1.6M116.8 532v1.6 M116.8 553.6v-1.6M123.4 532v1.6 M123.4 553.6v-1.6M130.1 532v1.6 M130.1 553.6v-1.6M136.7 532v3.2 M136.7 553.6v-3.2M143.3 532v1.6 M143.3 553.6v-1.6M149.9 532v1.6 M149.9 553.6v-1.6M156.5 532v1.6 M156.5 553.6v-1.6M163.1 532v3.2 M163.1 553.6v-3.2M169.7 532v1.6 M169.7 553.6v-1.6M176.4 532v1.6 M176.4 553.6v-1.6M183 532v1.6 M183 553.6v-1.6M189.6 532v3.2 M189.6 553.6v-3.2M196.2 532v1.6 M196.2 553.6v-1.6M202.8 532v1.6 M202.8 553.6v-1.6M209.4 532v1.6 M209.4 553.6v-1.6M216.1 532v3.2 M216.1 553.6v-3.2M222.7 532v1.6 M222.7 553.6v-1.6M229.3 532v1.6 M229.3 553.6v-1.6M235.9 532v1.6 M235.9 553.6v-1.6M242.5 532v1.6 M242.5 553.6v-1.6M249.1 532v3.2 M249.1 553.6v-3.2M255.7 532v1.6 M255.7 553.6v-1.6M262.4 532v1.6 M262.4 553.6v-1.6M269 532v1.6 M269 553.6v-1.6M275.6 532v3.2 M275.6 553.6v-3.2M282.2 532v1.6 M282.2 553.6v-1.6M288.8 532v1.6 M288.8 553.6v-1.6M295.4 532v1.6 M295.4 553.6v-1.6M302 532v3.2 M302 553.6v-3.2M308.7 532v1.6 M308.7 553.6v-1.6M315.3 532v1.6 M315.3 553.6v-1.6M321.9 532v1.6 M321.9 553.6v-1.6M328.5 532v1.6 M328.5 553.6v-1.6M335.1 532v3.2 M335.1 553.6v-3.2M341.7 532v1.6 M341.7 553.6v-1.6M348.4 532v1.6 M348.4 553.6v-1.6M355 532v1.6 M355 553.6v-1.6M361.6 532v3.2 M361.6 553.6v-3.2M368.2 532v1.6 M368.2 553.6v-1.6M374.8 532v1.6 M374.8 553.6v-1.6M381.4 532v1.6 M381.4 553.6v-1.6M388 532v1.6 M388 553.6v-1.6M394.7 532v3.2 M394.7 553.6v-3.2M401.3 532v1.6 M401.3 553.6v-1.6M407.9 532v1.6 M407.9 553.6v-1.6M414.5 532v1.6 M414.5 553.6v-1.6M421.1 532v3.2 M421.1 553.6v-3.2M427.7 532v1.6 M427.7 553.6v-1.6M434.3 532v1.6 M434.3 553.6v-1.6M441 532v1.6 M441 553.6v-1.6M447.6 532v3.2 M447.6 553.6v-3.2M454.2 532v1.6 M454.2 553.6v-1.6M460.8 532v1.6 M460.8 553.6v-1.6M467.4 532v1.6 M467.4 553.6v-1.6M474 532v1.6 M474 553.6v-1.6M480.7 532v3.2 M480.7 553.6v-3.2M487.3 532v1.6 M487.3 553.6v-1.6M493.9 532v1.6 M493.9 553.6v-1.6M500.5 532v1.6 M500.5 553.6v-1.6M507.1 532v3.2 M507.1 553.6v-3.2M513.7 532v1.6 M513.7 553.6v-1.6M520.3 532v1.6 M520.3 553.6v-1.6M527 532v1.6 M527 553.6v-1.6M533.6 532v1.6 M533.6 553.6v-1.6M540.2 532v3.2 M540.2 553.6v-3.2M546.8 532v1.6 M546.8 553.6v-1.6M553.4 532v1.6 M553.4 553.6v-1.6M560 532v1.6 M560 553.6v-1.6M566.6 532v3.2 M566.6 553.6v-3.2M573.3 532v1.6 M573.3 553.6v-1.6M579.9 532v1.6 M579.9 553.6v-1.6M586.5 532v1.6 M586.5 553.6v-1.6M593.1 532v3.2 M593.1 553.6v-3.2M599.7 532v1.6 M599.7 553.6v-1.6M606.3 532v1.6 M606.3 553.6v-1.6M613 532v1.6 M613 553.6v-1.6M619.6 532v3.2 M619.6 553.6v-3.2M626.2 532v1.6 M626.2 553.6v-1.6M632.8 532v1.6 M632.8 553.6v-1.6M639.4 532v1.6 M639.4 553.6v-1.6M646 532v1.6 M646 553.6v-1.6M652.6 532v3.2 M652.6 553.6v-3.2M659.3 532v1.6 M659.3 553.6v-1.6M665.9 532v1.6 M665.9 553.6v-1.6M672.5 532v1.6 M672.5 553.6v-1.6M679.1 532v3.2 M679.1 553.6v-3.2M685.7 532v1.6 M685.7 553.6v-1.6M692.3 532v1.6 M692.3 553.6v-1.6M698.9 532v1.6 M698.9 553.6v-1.6M705.6 532v3.2 M705.6 553.6v-3.2M712.2 532v1.6 M712.2 553.6v-1.6M718.8 532v1.6 M718.8 553.6v-1.6M725.4 532v1.6 M725.4 553.6v-1.6M732 532v1.6 M732 553.6v-1.6M738.6 532v3.2 M738.6 553.6v-3.2M745.2 532v1.6 M745.2 553.6v-1.6M751.9 532v1.6 M751.9 553.6v-1.6M758.5 532v1.6 M758.5 553.6v-1.6M765.1 532v3.2 M765.1 553.6v-3.2M771.7 532v1.6 M771.7 553.6v-1.6M778.3 532v1.6 M778.3 553.6v-1.6M784.9 532v1.6 M784.9 553.6v-1.6M791.6 532v1.6 M791.6 553.6v-1.6M798.2 532v3.2 M798.2 553.6v-3.2M804.8 532v1.6 M804.8 553.6v-1.6M811.4 532v1.6 M811.4 553.6v-1.6M818 532v1.6 M818 553.6v-1.6M824.6 532v3.2 M824.6 553.6v-3.2M831.2 532v1.6 M831.2 553.6v-1.6M837.9 532v1.6 M837.9 553.6v-1.6M844.5 532v1.6 M844.5 553.6v-1.6M851.1 532v3.2 M851.1 553.6v-3.2M857.7 532v1.6 M857.7 553.6v-1.6M864.3 532v1.6 M864.3 553.6v-1.6M870.9 532v1.6 M870.9 553.6v-1.6M877.6 532v1.6 M877.6 553.6v-1.6M884.2 532v3.2 M884.2 553.6v-3.2M890.8 532v1.6 M890.8 553.6v-1.6M897.4 532v1.6 M897.4 553.6v-1.6M904 532v1.6 M904 553.6v-1.6M910.6 532v3.2 M910.6 553.6v-3.2M917.2 532v1.6 M917.2 553.6v-1.6M923.9 532v1.6 M923.9 553.6v-1.6M930.5 532v1.6 M930.5 553.6v-1.6M937.1 532v3.2 M937.1 553.6v-3.2M943.7 532v1.6 M943.7 553.6v-1.6M950.3 532v1.6 M950.3 553.6v-1.6M956.9 532v1.6 M956.9 553.6v-1.6M963.5 532v3.2 M963.5 553.6v-3.2M970.2 532v1.6 M970.2 553.6v-1.6M976.8 532v1.6 M976.8 553.6v-1.6M983.4 532v1.6 M983.4 553.6v-1.6M990 532v1.6 M990 553.6v-1.6M996.6 532v3.2 M996.6 553.6v-3.2M1003.2 532v1.6 M1003.2 553.6v-1.6M1009.9 532v1.6 M1009.9 553.6v-1.6M1016.5 532v1.6 M1016.5 553.6v-1.6M1023.1 532v3.2 M1023.1 553.6v-3.2M1029.7 532v1.6 M1029.7 553.6v-1.6M1036.3 532v1.6 M1036.3 553.6v-1.6M1042.9 532v1.6 M1042.9 553.6v-1.6M1049.5 532v1.6 M1049.5 553.6v-1.6M1056.2 532v3.2 M1056.2 553.6v-3.2M1062.8 532v1.6 M1062.8 553.6v-1.6M1069.4 532v1.6 M1069.4 553.6v-1.6M1076 532v1.6 M1076 553.6v-1.6M1082.6 532v3.2 M1082.6 553.6v-3.2M1089.2 532v1.6 M1089.2 553.6v-1.6M1095.8 532v1.6 M1095.8 553.6v-1.6M1102.5 532v1.6 M1102.5 553.6v-1.6M1109.1 532v3.2 M1109.1 553.6v-3.2M1115.7 532v1.6 M1115.7 553.6v-1.6M1122.3 532v1.6 M1122.3 553.6v-1.6M1128.9 532v1.6 M1128.9 553.6v-1.6M1135.5 532v1.6 M1135.5 553.6v-1.6M1142.1 532v3.2 M1142.1 553.6v-3.2M1148.8 532v1.6 M1148.8 553.6v-1.6M1155.4 532v1.6 M1155.4 553.6v-1.6M1162 532v1.6 M1162 553.6v-1.6M1168.6 532v3.2 M1168.6 553.6v-3.2M1175.2 532v1.6 M1175.2 553.6v-1.6M1181.8 532v1.6 M1181.8 553.6v-1.6M1188.5 532v1.6 M1188.5 553.6v-1.6M1195.1 532v1.6 M1195.1 553.6v-1.6" stroke="#9db7c2" stroke-width="1.3" fill="none"/>
<path d="M1199 66.5h3.2M1199 108.4h3.2M1199 129.8h3.2M1199 150.5h3.2M1199 186.4h3.2M1199 207.6h3.2M1199 228.8h3.2M1199 249.6h3.2M1199 270.5h3.2M1199 291.6h3.2M1199 312.3h3.2M1199 333.1h3.2M1199 354.5h3.2M1199 376h3.2M1199 398h3.2M1199 419.9h3.2M1199 440.8h3.2M1199 461.8h3.2M1199 482.9h3.2M1199 503.4h3.2M1199 523.5h3.2M1199 565.4h3.2M1199 593.9h3.2M1199 622.4h3.2M1199 651h3.2M1199 713.5h3.2M1199 744.8h3.2M1199 776.6h3.2M1199 559.7h1.6M1199 571.1h1.6M1199 576.8h1.6M1199 582.5h1.6M1199 588.2h1.6M1199 599.6h1.6M1199 605.3h1.6M1199 611h1.6M1199 616.7h1.6M1199 628.1h1.6M1199 633.8h1.6M1199 639.5h1.6M1199 645.2h1.6M1199 656.7h1.6M1199 662.4h1.6M1199 668.1h1.6M1199 673.8h1.6M1199 801.5h1.6M1199 795.2h1.6M1199 788.9h1.6M1199 782.6h1.6M1199 770h1.6M1199 763.7h1.6M1199 757.4h1.6M1199 751.1h1.6M1199 738.5h1.6M1199 732.2h1.6M1199 725.9h1.6M1199 719.6h1.6M1199 707h1.6M1199 700.7h1.6M1199 694.4h1.6M1199 688.1h1.6" stroke="#9db7c2" stroke-width="1.1" fill="none"/>
<path d="M420.6 299.7L431.9 311.8H426.1V323.4H415.1V311.8H409.3z" fill="#4f8034" stroke="#4f8034" stroke-width="1.6" stroke-linejoin="round"/>
<path d="M110.2 521.8L121.5 529.6H115.7V540.2H104.7V529.6H98.9z" fill="#4f8034" stroke="#4f8034" stroke-width="1.6" stroke-linejoin="round"/>
<rect x="107.6" y="514.4" width="6.4" height="6.4" fill="#ffe04a" stroke="#eda21c" stroke-width="1.4"/>
<text transform="translate(19.9 548) scale(1.16 1)" text-anchor="middle" style="font-size:13.8px">A</text>
<text transform="translate(52.7 548) scale(1.16 1)" text-anchor="middle" style="font-size:13.8px">S</text>
<text transform="translate(79.1 548) scale(1.16 1)" text-anchor="middle" style="font-size:13.8px">O</text>
<text transform="translate(105.6 548) scale(1.16 1)" text-anchor="middle" style="font-size:13.8px">N</text>
<text transform="translate(138.7 548) scale(1.16 1)" text-anchor="middle" style="font-size:13.8px">D</text>
<text x="161.5" y="548" text-anchor="middle" style="font-size:14px;font-weight:bold">21</text>
<text transform="translate(191.6 548) scale(1.16 1)" text-anchor="middle" style="font-size:13.8px">F</text>
<text transform="translate(218.1 548) scale(1.16 1)" text-anchor="middle" style="font-size:13.8px">M</text>
<text transform="translate(251.1 548) scale(1.16 1)" text-anchor="middle" style="font-size:13.8px">A</text>
<text transform="translate(277.6 548) scale(1.16 1)" text-anchor="middle" style="font-size:13.8px">M</text>
<text transform="translate(304 548) scale(1.16 1)" text-anchor="middle" style="font-size:13.8px">J</text>
<text transform="translate(337.1 548) scale(1.16 1)" text-anchor="middle" style="font-size:13.8px">J</text>
<text transform="translate(363.6 548) scale(1.16 1)" text-anchor="middle" style="font-size:13.8px">A</text>
<text transform="translate(396.7 548) scale(1.16 1)" text-anchor="middle" style="font-size:13.8px">S</text>
<text transform="translate(423.1 548) scale(1.16 1)" text-anchor="middle" style="font-size:13.8px">O</text>
<text transform="translate(449.6 548) scale(1.16 1)" text-anchor="middle" style="font-size:13.8px">N</text>
<text transform="translate(482.7 548) scale(1.16 1)" text-anchor="middle" style="font-size:13.8px">D</text>
<text x="505.5" y="548" text-anchor="middle" style="font-size:14px;font-weight:bold">22</text>
<text transform="translate(542.2 548) scale(1.16 1)" text-anchor="middle" style="font-size:13.8px">F</text>
<text transform="translate(568.6 548) scale(1.16 1)" text-anchor="middle" style="font-size:13.8px">M</text>
<text transform="translate(595.1 548) scale(1.16 1)" text-anchor="middle" style="font-size:13.8px">A</text>
<text transform="translate(621.6 548) scale(1.16 1)" text-anchor="middle" style="font-size:13.8px">M</text>
<text transform="translate(654.6 548) scale(1.16 1)" text-anchor="middle" style="font-size:13.8px">J</text>
<text transform="translate(681.1 548) scale(1.16 1)" text-anchor="middle" style="font-size:13.8px">J</text>
<text transform="translate(707.6 548) scale(1.16 1)" text-anchor="middle" style="font-size:13.8px">A</text>
<text transform="translate(740.6 548) scale(1.16 1)" text-anchor="middle" style="font-size:13.8px">S</text>
<text transform="translate(767.1 548) scale(1.16 1)" text-anchor="middle" style="font-size:13.8px">O</text>
<text transform="translate(800.2 548) scale(1.16 1)" text-anchor="middle" style="font-size:13.8px">N</text>
<text transform="translate(826.6 548) scale(1.16 1)" text-anchor="middle" style="font-size:13.8px">D</text>
<text x="849.5" y="548" text-anchor="middle" style="font-size:14px;font-weight:bold">23</text>
<text transform="translate(886.2 548) scale(1.16 1)" text-anchor="middle" style="font-size:13.8px">F</text>
<text transform="translate(912.6 548) scale(1.16 1)" text-anchor="middle" style="font-size:13.8px">M</text>
<text transform="translate(939.1 548) scale(1.16 1)" text-anchor="middle" style="font-size:13.8px">A</text>
<text transform="translate(965.5 548) scale(1.16 1)" text-anchor="middle" style="font-size:13.8px">M</text>
<text transform="translate(998.6 548) scale(1.16 1)" text-anchor="middle" style="font-size:13.8px">J</text>
<text transform="translate(1025.1 548) scale(1.16 1)" text-anchor="middle" style="font-size:13.8px">J</text>
<text transform="translate(1058.2 548) scale(1.16 1)" text-anchor="middle" style="font-size:13.8px">A</text>
<text transform="translate(1084.6 548) scale(1.16 1)" text-anchor="middle" style="font-size:13.8px">S</text>
<text transform="translate(1111.1 548) scale(1.16 1)" text-anchor="middle" style="font-size:13.8px">O</text>
<text transform="translate(1144.1 548) scale(1.16 1)" text-anchor="middle" style="font-size:13.8px">N</text>
<text transform="translate(1170.6 548) scale(1.16 1)" text-anchor="middle" style="font-size:13.8px">D</text>
<text class="ax" x="1203.8" y="69.9" textLength="16.6" lengthAdjust="spacingAndGlyphs">90</text>
<text class="ax" x="1203.8" y="111.8" textLength="16.6" lengthAdjust="spacingAndGlyphs">50</text>
<text class="ax" x="1203.8" y="133.2" textLength="16.6" lengthAdjust="spacingAndGlyphs">30</text>
<text class="ax" x="1203.8" y="153.9" textLength="16.6" lengthAdjust="spacingAndGlyphs">10</text>
<text class="ax" x="1203.4" y="189.8" textLength="35" lengthAdjust="spacingAndGlyphs">4800</text>
<text class="ax" x="1203.4" y="211" textLength="35" lengthAdjust="spacingAndGlyphs">4700</text>
<text class="ax" x="1203.4" y="232.2" textLength="35" lengthAdjust="spacingAndGlyphs">4600</text>
<text class="ax" x="1203.4" y="253" textLength="35" lengthAdjust="spacingAndGlyphs">4500</text>
<text class="ax" x="1203.4" y="273.9" textLength="35" lengthAdjust="spacingAndGlyphs">4400</text>
<text class="ax" x="1203.4" y="295" textLength="35" lengthAdjust="spacingAndGlyphs">4300</text>
<text class="ax" x="1203.4" y="315.7" textLength="35" lengthAdjust="spacingAndGlyphs">4200</text>
<text class="ax" x="1203.4" y="336.5" textLength="35" lengthAdjust="spacingAndGlyphs">4100</text>
<text class="ax" x="1203.4" y="357.9" textLength="35" lengthAdjust="spacingAndGlyphs">4000</text>
<text class="ax" x="1203.4" y="379.4" textLength="35" lengthAdjust="spacingAndGlyphs">3900</text>
<text class="ax" x="1203.4" y="401.4" textLength="35" lengthAdjust="spacingAndGlyphs">3800</text>
<text class="ax" x="1203.4" y="423.3" textLength="35" lengthAdjust="spacingAndGlyphs">3700</text>
<text class="ax" x="1203.4" y="444.2" textLength="35" lengthAdjust="spacingAndGlyphs">3600</text>
<text class="ax" x="1203.4" y="465.2" textLength="35" lengthAdjust="spacingAndGlyphs">3500</text>
<text class="ax" x="1203.4" y="486.3" textLength="35" lengthAdjust="spacingAndGlyphs">3400</text>
<text class="ax" x="1203.4" y="506.8" textLength="35" lengthAdjust="spacingAndGlyphs">3300</text>
<text class="ax" x="1203.4" y="526.9" textLength="35" lengthAdjust="spacingAndGlyphs">3200</text>
<text class="ax" x="1203.6" y="568.8" textLength="27.6" lengthAdjust="spacingAndGlyphs">20B</text>
<text class="ax" x="1203.6" y="597.3" textLength="27.6" lengthAdjust="spacingAndGlyphs">15B</text>
<text class="ax" x="1203.6" y="625.8" textLength="27.6" lengthAdjust="spacingAndGlyphs">10B</text>
<text class="ax" x="1212.3" y="654.4" textLength="18.6" lengthAdjust="spacingAndGlyphs">5B</text>
<text class="ax" x="1226.8" y="748.2" textLength="8" lengthAdjust="spacingAndGlyphs">0</text>
<text class="ax" x="1204.6" y="780" textLength="29.6" lengthAdjust="spacingAndGlyphs">-100</text>
<path d="M1196.3 87.6L1200.4 80.2H1245.4V95.2H1200.4z" fill="#d9f8ff" stroke="#4b4bd6" stroke-width="1.6"/>
<text class="ax" x="1202" y="92.2" textLength="40" lengthAdjust="spacingAndGlyphs" style="font-size:13px">68.91</text>
<path d="M1195.6 278.2L1200 270.6H1262V285.8H1200z" fill="#d9f8ff" stroke="#d3282e" stroke-width="1.5" stroke-linejoin="miter"/>
<text class="ax" x="1203" y="282.8" textLength="58.6" lengthAdjust="spacingAndGlyphs" style="font-size:13.4px;">4362.77</text>
<path d="M1195.6 323.2L1200 315.6H1262V330.8H1200z" fill="#d9f8ff" stroke="#3c7a2c" stroke-width="1.5" stroke-linejoin="miter"/>
<text class="ax" x="1203" y="327.8" textLength="58.6" lengthAdjust="spacingAndGlyphs" style="font-size:13.4px;">4146.36</text>
<path d="M1195.6 241.6L1200 233.9H1262V249.3H1200z" fill="#d9f8ff" stroke="#111" stroke-width="1.7" stroke-linejoin="miter"/>
<text class="dv" x="1202.4" y="246.5" style="font-size:13.2px;font-weight:bold;">4536.34</text>
<path d="M1195.6 601.2L1200 593.7H1262V608.7H1200z" fill="#d9f8ff" stroke="#333" stroke-width="1.5" stroke-linejoin="miter"/>
<text class="ax" x="1204.2" y="606.1" textLength="83.5" lengthAdjust="spacingAndGlyphs" style="font-size:13.4px;">13220928512</text>
<path d="M1195.6 714.5L1200 707.4H1262V721.6H1200z" fill="#d9f8ff" stroke="#3a34c8" stroke-width="1.5" stroke-linejoin="miter"/>
<text class="ax" x="1204" y="719.1" textLength="48.5" lengthAdjust="spacingAndGlyphs" style="font-size:13.4px;">93.647</text>
<path d="M1195.6 704.2L1200 697.4H1262V711H1200z" fill="#d9f8ff" stroke="#222" stroke-width="1.5" stroke-linejoin="miter"/>
<text class="ax" x="1204" y="709.1" textLength="56.5" lengthAdjust="spacingAndGlyphs" style="font-size:13.4px;">124.948</text>
<path d="M1195.6 733.2L1200 725.9H1262V740.5H1200z" fill="#d9f8ff" stroke="#7d9670" stroke-width="1.5" stroke-linejoin="miter"/>
<text class="ax" x="1204" y="737.8" textLength="48.5" lengthAdjust="spacingAndGlyphs" style="font-size:13.4px;">31.301</text>
<text x="13.8" y="23.4" textLength="51" lengthAdjust="spacingAndGlyphs" style="font-size:20px;font-weight:bold">$SPX</text>
<text x="70" y="22" textLength="183.5" lengthAdjust="spacingAndGlyphs" style="font-size:14.6px">S&amp;P 500 Large Cap Index</text>
<text x="262.3" y="22" textLength="34.3" lengthAdjust="spacingAndGlyphs" style="font-size:11.8px">INDX</text>
<text x="13.6" y="41.6" textLength="84.6" lengthAdjust="spacingAndGlyphs" style="font-size:14.2px">21-Jul-2023</text>
<text x="1064.5" y="21.8" textLength="134" lengthAdjust="spacingAndGlyphs" style="font-size:13.4px;fill:#555">© StockCharts.com</text>
<text x="457.6" y="41.2" textLength="41.6" lengthAdjust="spacingAndGlyphs" style="font-size:13.6px;font-weight:bold">Open</text>
<text x="505.5" y="41.2" textLength="57.6" lengthAdjust="spacingAndGlyphs" style="font-size:13.6px">4508.86</text>
<text x="572.7" y="41.2" textLength="35.2" lengthAdjust="spacingAndGlyphs" style="font-size:13.6px;font-weight:bold">High</text>
<text x="614.3" y="41.2" textLength="55.9" lengthAdjust="spacingAndGlyphs" style="font-size:13.6px">4578.43</text>
<text x="679.8" y="41.2" textLength="34.5" lengthAdjust="spacingAndGlyphs" style="font-size:13.6px;font-weight:bold">Low</text>
<text x="720.7" y="41.2" textLength="56.6" lengthAdjust="spacingAndGlyphs" style="font-size:13.6px">4504.90</text>
<text x="788.8" y="41.2" textLength="45.6" lengthAdjust="spacingAndGlyphs" style="font-size:13.6px;font-weight:bold">Close</text>
<text x="841" y="41.2" textLength="58.6" lengthAdjust="spacingAndGlyphs" style="font-size:13.6px">4536.34</text>
<text x="909" y="41.2" textLength="62" lengthAdjust="spacingAndGlyphs" style="font-size:13.6px;font-weight:bold">Volume</text>
<text x="979" y="41.2" textLength="40" lengthAdjust="spacingAndGlyphs" style="font-size:13.6px">13.2B</text>
<text x="1029" y="41.2" textLength="31" lengthAdjust="spacingAndGlyphs" style="font-size:13.6px;font-weight:bold">Chg</text>
<text x="1066" y="41.2" textLength="116.5" lengthAdjust="spacingAndGlyphs" style="font-size:13.6px">+30.92 (+0.69%)</text>
<path d="M1187.6 40.8L1193 34.6L1198.4 40.8z" fill="#3c7a2c"/>
<path d="M19.1 61V57.4L25.2 48.5L28.2 56.9L31.3 51.4V61z" fill="#8cc4c0"/>
<path d="M19.1 61.2V57.4L25.2 48.5L28.2 56.9L31.3 51.4V61.2" fill="none" stroke="#3b3bd0" stroke-width="1.7" stroke-linejoin="round"/>
<text class="mono" x="36.4" y="60.8" textLength="119.4" lengthAdjust="spacingAndGlyphs" style="font-size:13.6px;fill:#000">RSI(14) 68.91</text>
<path d="M20.6 175.2V186M25.6 180V187.6M30.2 175.2V187.6" stroke="#000" stroke-width="1.5" fill="none"/>
<rect x="19" y="177" width="3.2" height="5.6" fill="#e4ede0" stroke="#000" stroke-width="1.4"/>
<rect x="22.9" y="180.3" width="5.4" height="5.7" fill="#000"/>
<rect x="28.8" y="177" width="2.8" height="8.2" fill="#e4ede0" stroke="#000" stroke-width="1.4"/>
<text class="mono" x="36.4" y="187.4" textLength="199.2" lengthAdjust="spacingAndGlyphs" style="font-size:13.6px;fill:#000">$SPX (Weekly) 4536.34</text>
<path d="M18.6 198H32" stroke="#1c1ca8" stroke-width="2.2" fill="none"/>
<text class="dv" x="34.2" y="203.6" textLength="73.6" lengthAdjust="spacingAndGlyphs" style="font-size:13.2px;fill:#1c1ca8">MA(0) 0.00</text>
<path d="M18.6 214.6H32" stroke="#d01c24" stroke-width="2.2" fill="none"/>
<text class="dv" x="34.2" y="220.2" textLength="103.2" lengthAdjust="spacingAndGlyphs" style="font-size:13.2px;fill:#d01c24">MA(10) 4362.77</text>
<path d="M18.6 231.2H32" stroke="#2f6a1c" stroke-width="2.2" fill="none"/>
<text class="dv" x="34.2" y="236.8" textLength="103.2" lengthAdjust="spacingAndGlyphs" style="font-size:13.2px;fill:#2f6a1c">MA(30) 4146.36</text>
<path d="M19.1 568.7V562.6H22.6V568.7zM23.6 568.7V556.4H26.9V568.7zM28 568.7V559.6H31.4V568.7z" fill="#6f9c55" stroke="#2f6a1c" stroke-width="1.3"/>
<text class="mono" x="37" y="568.8" textLength="202.6" lengthAdjust="spacingAndGlyphs" style="font-size:13.6px;fill:#000">Volume 13,220,928,512</text>
<path d="M18.6 689.2H31.4" stroke="#111" stroke-width="2.4" fill="none"/>
<text class="mono" x="37.2" y="695.4" textLength="202.4" lengthAdjust="spacingAndGlyphs" style="font-size:13.6px;fill:#000">MACD(12,26,9) 124.948</text>
<text class="mono" x="239.6" y="695.4" textLength="68.6" lengthAdjust="spacingAndGlyphs" style="font-size:13.6px;fill:#3a34c8">, 93.647</text>
<text class="mono" x="308.2" y="695.4" textLength="71.8" lengthAdjust="spacingAndGlyphs" style="font-size:13.6px;fill:#8fc97c">, 31.301</text>
</svg></body></html>
